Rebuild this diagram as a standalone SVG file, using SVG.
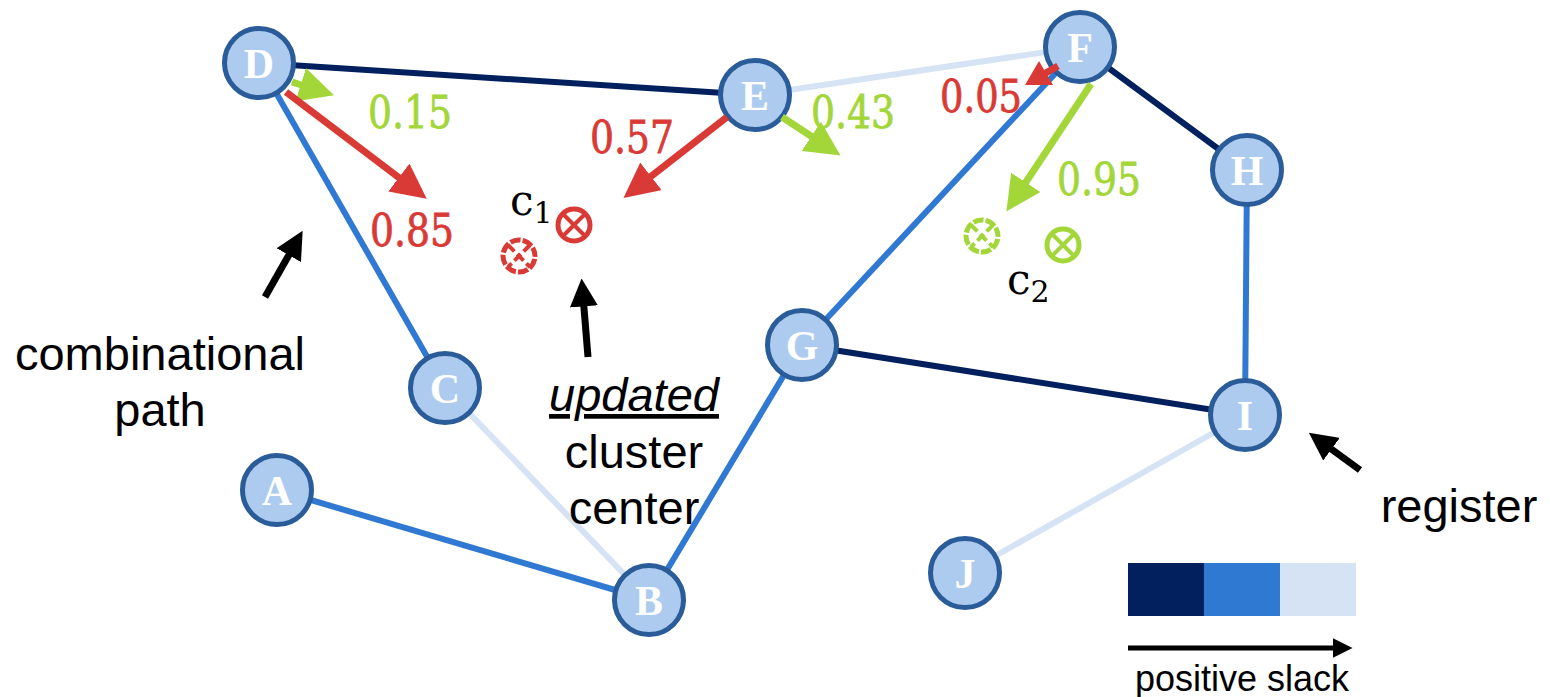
<svg xmlns="http://www.w3.org/2000/svg" width="1550" height="697" viewBox="0 0 1550 697">
  <defs>
    <style>
      .edge { stroke-width: 6; fill: none; }
      .slow { stroke: #021F5E; }
      .mid { stroke: #3079D3; }
      .fast { stroke: #D6E3F5; }
      .node circle { fill: #ADCBEE; stroke: #2A5C9A; stroke-width: 5; }
      .node text { fill: #ffffff; font-family: "Liberation Serif", "DejaVu Serif", serif; font-weight: bold; font-size: 42px; text-anchor: middle; }
      .num { font-family: "DejaVu Serif", "Liberation Serif", serif; font-size: 44px; text-anchor: middle; stroke-width: 0.8; }
      .red { fill: #D93A35; stroke: #D93A35; }
      .green { fill: #A3D639; stroke: #A3D639; }
      .mv { stroke-width: 7; fill: none; }
      .mvr { stroke: #D93A35; }
      .mvg { stroke: #A3D639; }
      .label { font-family: "Liberation Sans", Arial, sans-serif; font-size: 47px; fill: #000; text-anchor: middle; }
      .cname { font-family: "DejaVu Serif", "Liberation Serif", serif; font-size: 42px; fill: #000; }
    </style>
    <marker id="ahR" markerWidth="5" markerHeight="5" refX="2" refY="2.5" orient="auto" markerUnits="strokeWidth">
      <path d="M0,0 L5,2.5 L0,5 z" fill="#D93A35"/>
    </marker>
    <marker id="ahG" markerWidth="5" markerHeight="5" refX="2" refY="2.5" orient="auto" markerUnits="strokeWidth">
      <path d="M0,0 L5,2.5 L0,5 z" fill="#A3D639"/>
    </marker>
    <marker id="ahK" markerWidth="4" markerHeight="4" refX="1.5" refY="2" orient="auto" markerUnits="strokeWidth">
      <path d="M0,0 L4,2 L0,4 z" fill="#000"/>
    </marker>
  </defs>

  <!-- connectors -->
  <g id="connectors">
    <line class="edge slow" x1="259" y1="63" x2="755" y2="95"/>
    <line class="edge mid" x1="259" y1="63" x2="445" y2="388"/>
    <line class="edge fast" x1="445" y1="388" x2="649" y2="600"/>
    <line class="edge mid" x1="277" y1="490" x2="649" y2="600"/>
    <line class="edge mid" x1="649" y1="600" x2="802" y2="345"/>
    <line class="edge mid" x1="802" y1="345" x2="1080" y2="47"/>
    <line class="edge slow" x1="802" y1="345" x2="1245" y2="415"/>
    <line class="edge fast" x1="755" y1="95" x2="1080" y2="47"/>
    <line class="edge slow" x1="1080" y1="47" x2="1247" y2="170"/>
    <line class="edge mid" x1="1247" y1="170" x2="1245" y2="415"/>
    <line class="edge fast" x1="1245" y1="415" x2="965" y2="573"/>
  </g>

  <!-- nodes -->
  <g id="node-D" class="node"><circle cx="259" cy="63" r="34.5"/><text x="259" y="78">D</text></g>
  <g id="node-E" class="node"><circle cx="755" cy="95" r="34.5"/><text x="755" y="110">E</text></g>
  <g id="node-F" class="node"><circle cx="1080" cy="47" r="34.5"/><text x="1080" y="62">F</text></g>
  <g id="node-H" class="node"><circle cx="1247" cy="170" r="34.5"/><text x="1247" y="185">H</text></g>
  <g id="node-G" class="node"><circle cx="802" cy="345" r="34.5"/><text x="802" y="360">G</text></g>
  <g id="node-C" class="node"><circle cx="445" cy="388" r="34.5"/><text x="445" y="403">C</text></g>
  <g id="node-I" class="node"><circle cx="1245" cy="415" r="34.5"/><text x="1245" y="430">I</text></g>
  <g id="node-A" class="node"><circle cx="277" cy="490" r="34.5"/><text x="277" y="505">A</text></g>
  <g id="node-B" class="node"><circle cx="649" cy="600" r="34.5"/><text x="649" y="615">B</text></g>
  <g id="node-J" class="node"><circle cx="965" cy="573" r="34.5"/><text x="965" y="588">J</text></g>

  <!-- pull vectors toward cluster centers -->
  <g id="pulls">
    <line class="mv mvg" x1="292" y1="82" x2="314" y2="89" marker-end="url(#ahG)"/>
    <line class="mv mvr" x1="286" y1="92" x2="410" y2="186" marker-end="url(#ahR)"/>
    <line class="mv mvr" x1="727" y1="117" x2="640" y2="185" marker-end="url(#ahR)"/>
    <line class="mv mvg" x1="782" y1="117" x2="823" y2="144" marker-end="url(#ahG)"/>
    <line class="mv mvr" x1="1058" y1="66" x2="1044" y2="74"/>
    <polygon points="1025,85 1053,85 1039,61" fill="#D93A35"/>
    <line class="mv mvg" x1="1091" y1="84" x2="1018" y2="194" marker-end="url(#ahG)"/>
    <text class="num green" x="410" y="128" textLength="84" lengthAdjust="spacingAndGlyphs">0.15</text>
    <text class="num red" x="412" y="246" textLength="84" lengthAdjust="spacingAndGlyphs">0.85</text>
    <text class="num red" x="632" y="153" textLength="84" lengthAdjust="spacingAndGlyphs">0.57</text>
    <text class="num green" x="853" y="128" textLength="84" lengthAdjust="spacingAndGlyphs">0.43</text>
    <text class="num red" x="981" y="112" textLength="82" lengthAdjust="spacingAndGlyphs">0.05</text>
    <text class="num green" x="1099" y="195" textLength="84" lengthAdjust="spacingAndGlyphs">0.95</text>
  </g>

  <!-- cluster centers -->
  <g id="cluster-1">
    <circle cx="574" cy="225" r="16" fill="none" stroke="#D93A35" stroke-width="5"/>
    <path d="M563,214 L585,236 M585,214 L563,236" stroke="#D93A35" stroke-width="4"/>
    <circle cx="519" cy="256" r="16" fill="none" stroke="#D93A35" stroke-width="5" stroke-dasharray="10.5 2.1" stroke-dashoffset="-3"/>
    <path d="M508,245 L530,267 M530,245 L508,267" stroke="#D93A35" stroke-width="4" stroke-dasharray="9 4"/>
    <text class="cname" x="510" y="215">c<tspan font-size="30" dy="8">1</tspan></text>
  </g>
  <g id="cluster-2">
    <circle cx="1063" cy="245" r="16" fill="none" stroke="#A3D639" stroke-width="5"/>
    <path d="M1052,234 L1074,256 M1074,234 L1052,256" stroke="#A3D639" stroke-width="4"/>
    <circle cx="982" cy="236" r="16" fill="none" stroke="#A3D639" stroke-width="5" stroke-dasharray="10.5 2.1" stroke-dashoffset="-3"/>
    <path d="M971,225 L993,247 M993,225 L971,247" stroke="#A3D639" stroke-width="4" stroke-dasharray="9 4"/>
    <text class="cname" x="1007" y="294">c<tspan font-size="30" dy="8">2</tspan></text>
  </g>

  <!-- annotations -->
  <g id="annotations">
    <line x1="265" y1="297" x2="294" y2="246" stroke="#000" stroke-width="7" marker-end="url(#ahK)"/>
    <text class="label" x="160" y="370">combinational</text>
    <text class="label" x="160" y="426">path</text>
    <line x1="588" y1="357" x2="583" y2="296" stroke="#000" stroke-width="7" marker-end="url(#ahK)"/>
    <text class="label" x="634" y="411" font-style="italic" text-decoration="underline">updated</text>
    <text class="label" x="634" y="468">cluster</text>
    <text class="label" x="634" y="524">center</text>
    <line x1="1360" y1="470" x2="1323" y2="443" stroke="#000" stroke-width="7" marker-end="url(#ahK)"/>
    <text class="label" x="1459" y="522">register</text>
  </g>

  <!-- slack legend -->
  <g id="legend">
    <rect x="1128" y="563" width="76" height="53" fill="#021F5E"/>
    <rect x="1204" y="563" width="76" height="53" fill="#3079D3"/>
    <rect x="1280" y="563" width="76" height="53" fill="#D6E3F5"/>
    <line x1="1128" y1="648" x2="1340" y2="648" stroke="#000" stroke-width="5" marker-end="url(#ahK)"/>
    <text x="1242" y="691" font-family="Liberation Sans, Arial, sans-serif" font-size="36" text-anchor="middle">positive slack</text>
  </g>
</svg>
